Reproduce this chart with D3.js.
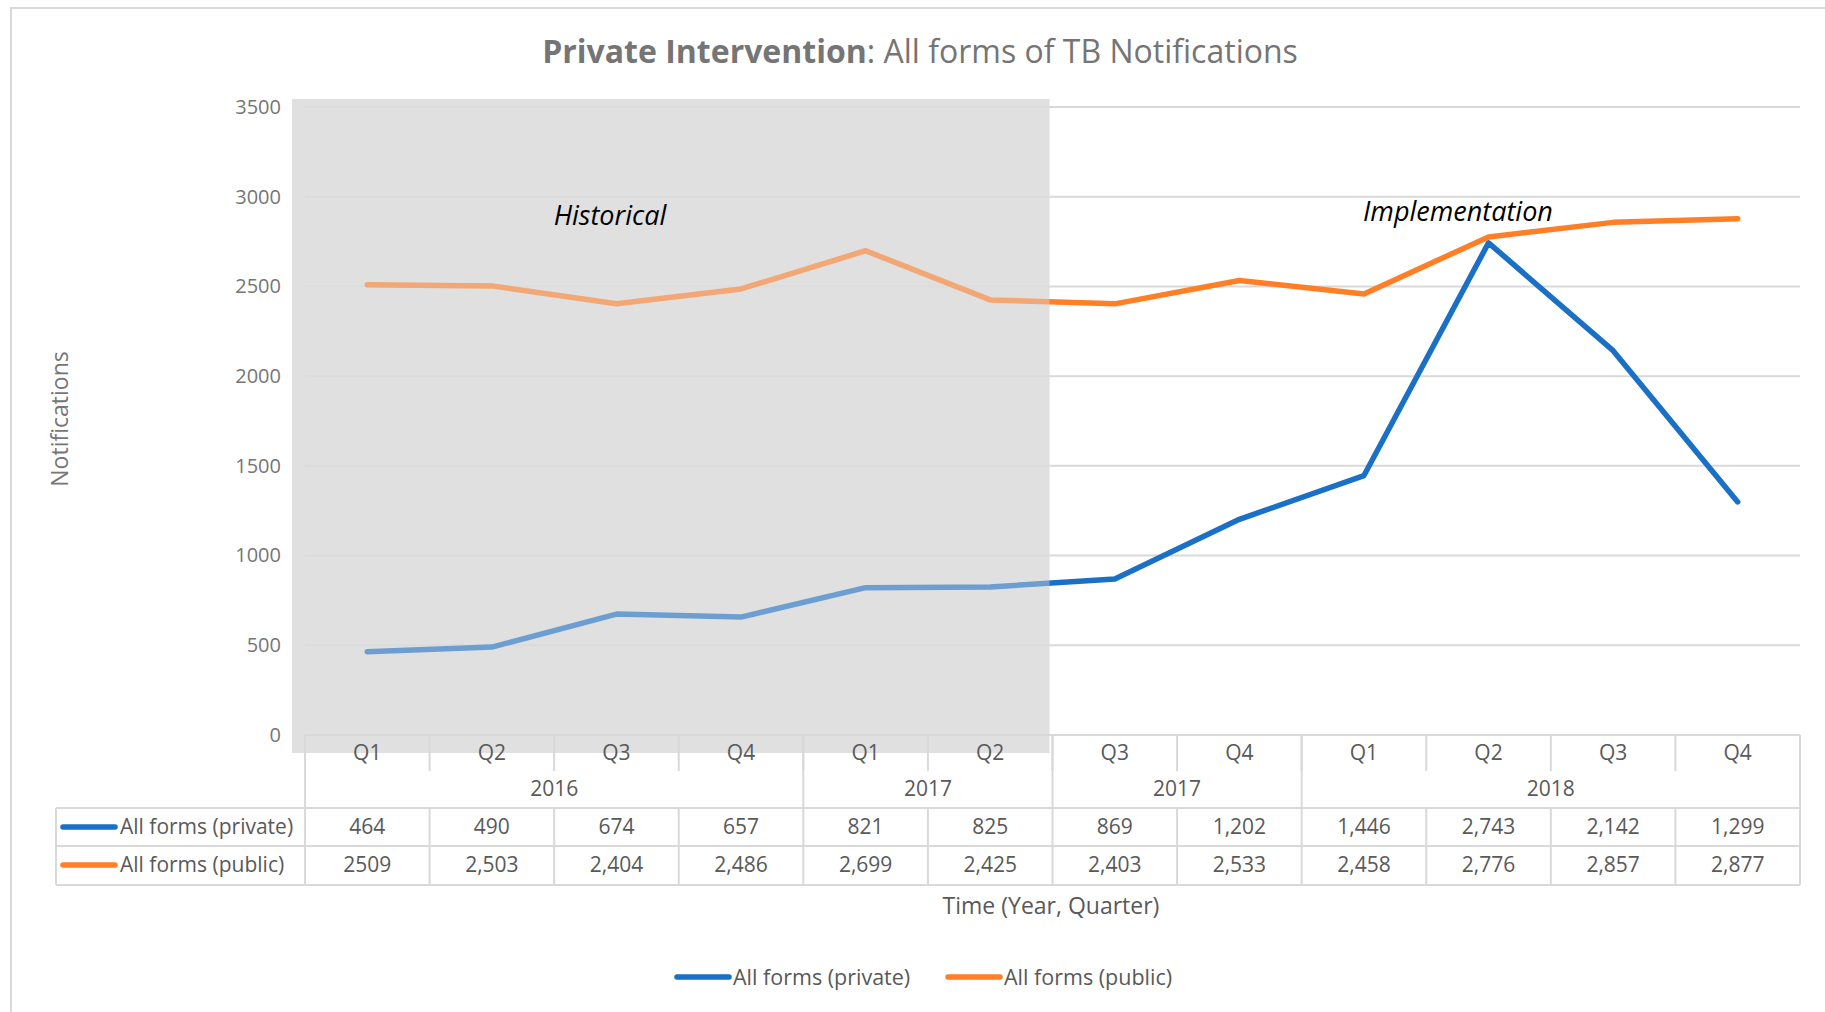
<!DOCTYPE html>
<html><head><meta charset="utf-8">
<script src="https://cdn.jsdelivr.net/npm/d3@7"></script>
<style>
html,body{margin:0;padding:0;background:#fff;}
svg{display:block;font-family:"Open Sans",sans-serif;}
</style></head>
<body><svg id="c" width="1825" height="1012"></svg>
<script>
// ---- data ----
const categories = ["2016 Q1","2016 Q2","2016 Q3","2016 Q4","2017 Q1","2017 Q2","2017 Q3","2017 Q4","2018 Q1","2018 Q2","2018 Q3","2018 Q4"];
const quarterLabels = ["Q1","Q2","Q3","Q4","Q1","Q2","Q3","Q4","Q1","Q2","Q3","Q4"];
const groupLabels = ["2016","2017","2017","2018"];
const groupSpans = [4,2,2,4];
const seriesNames = ["All forms (private)","All forms (public)"];
const privateValues = [464,490,674,657,821,825,869,1202,1446,2743,2142,1299];
const publicValues = [2509,2503,2404,2486,2699,2425,2403,2533,2458,2776,2857,2877];
const privateLabels = ["464","490","674","657","821","825","869","1,202","1,446","2,743","2,142","1,299"];
const publicLabels = ["2509","2,503","2,404","2,486","2,699","2,425","2,403","2,533","2,458","2,776","2,857","2,877"];
const yTicks = [0,500,1000,1500,2000,2500,3000,3500];
const historicalCount = 6; // first 6 quarters shaded
const annotations = ["Historical","Implementation"];

// ---- layout ----
const svg = d3.select("#c");
const colors = ["#1A6FC6","#FF7F27"];
const textGray = "#595959";
const gridColor = "#D9D9D9";
const x = d3.scaleBand().domain(categories).range([305,1800]).padding(0);
const bw = x.bandwidth();
const cx = d => x(d) + bw/2;
const y = d3.scaleLinear().domain([0,3500]).range([735,107]);
const tableFont = 21;

// outer border
svg.append("rect").attr("x",11).attr("y",8).attr("width",1830).attr("height",1020)
  .attr("fill","none").attr("stroke","#D9D9D9").attr("stroke-width",2);

// title
const title = svg.append("text").attr("x",920).attr("y",63).attr("text-anchor","middle")
  .attr("font-size",32).attr("fill","#757575");
title.append("tspan").attr("font-weight","bold").text("Private Intervention");
title.append("tspan").text(": All forms of TB Notifications");

// shaded historical area
const shadeX0 = x.range()[0] - 13;
const shadeX1 = x(categories[historicalCount]) - 3;
svg.append("rect").attr("x",shadeX0).attr("y",99).attr("width",shadeX1-shadeX0).attr("height",753-99)
  .attr("fill","#E0E0E0");

// gridlines
svg.append("g").selectAll("line").data(yTicks.filter(t=>t>0)).join("line")
  .attr("x1",x.range()[0]).attr("x2",x.range()[1])
  .attr("y1",d=>y(d)).attr("y2",d=>y(d))
  .attr("stroke",gridColor).attr("stroke-width",2);

// y axis
const yAxis = svg.append("g").attr("transform",`translate(${x.range()[0]-24},0)`)
  .call(d3.axisLeft(y).tickValues(yTicks).tickFormat(d3.format("d")).tickSize(0).tickPadding(0));
yAxis.select(".domain").remove();
yAxis.selectAll("text").attr("font-size",20).attr("fill","#767676").attr("font-family","Open Sans");

// y axis title
svg.append("text").attr("transform","translate(60,419) rotate(-90)").attr("text-anchor","middle")
  .attr("dy","0.35em").attr("font-size",23).attr("fill","#767676").text("Notifications");

// lines
const line = d3.line().x((d,i)=>cx(categories[i])).y(d=>y(d));
[privateValues, publicValues].forEach((vals,k)=>{
  svg.append("path").datum(vals).attr("d",line).attr("fill","none")
    .attr("stroke",colors[k]).attr("stroke-width",5.5)
    .attr("stroke-linejoin","round").attr("stroke-linecap","round");
});

// fade overlay over historical lines
svg.append("rect").attr("x",shadeX0).attr("y",99).attr("width",shadeX1-shadeX0).attr("height",y(0)-99)
  .attr("fill","#E0E0E0").attr("opacity",0.42);

// annotations
svg.append("text").attr("x",610).attr("y",225).attr("text-anchor","middle").attr("font-style","italic")
  .attr("font-size",27).attr("fill","#000").text(annotations[0]);
svg.append("text").attr("x",1458).attr("y",221).attr("text-anchor","middle").attr("font-style","italic")
  .attr("font-size",27).attr("fill","#000").text(annotations[1]);

// ---- data table ----
const tbl = svg.append("g").attr("stroke",gridColor).attr("stroke-width",2);
const rowTop = y(0), rowQ = 771, rowData1 = 808, rowData2 = 846, rowBottom = 885;
const tableLeft = 56;
tbl.append("line").attr("x1",x.range()[0]).attr("x2",x.range()[1]).attr("y1",rowTop).attr("y2",rowTop);
[rowData1,rowData2,rowBottom].forEach(yy=>tbl.append("line").attr("x1",tableLeft).attr("x2",x.range()[1]).attr("y1",yy).attr("y2",yy));
categories.forEach((c,i)=>{
  tbl.append("line").attr("x1",x(c)).attr("x2",x(c)).attr("y1",rowTop).attr("y2",rowQ);
});
let acc = 0;
const bounds = [0];
groupSpans.forEach(s=>{acc+=s; bounds.push(acc);});
bounds.forEach(b=>{
  const xx = b < categories.length ? x(categories[b]) : x.range()[1];
  tbl.append("line").attr("x1",xx).attr("x2",xx).attr("y1",rowTop).attr("y2",rowData1);
});
categories.forEach(c=>tbl.append("line").attr("x1",x(c)).attr("x2",x(c)).attr("y1",rowData1).attr("y2",rowBottom));
tbl.append("line").attr("x1",x.range()[1]).attr("x2",x.range()[1]).attr("y1",rowData1).attr("y2",rowBottom);
tbl.append("line").attr("x1",tableLeft).attr("x2",tableLeft).attr("y1",rowData1).attr("y2",rowBottom);

const tt = svg.append("g").attr("font-size",tableFont).attr("fill",textGray).attr("text-anchor","middle");
quarterLabels.forEach((q,i)=>tt.append("text").attr("x",cx(categories[i])).attr("y",753).attr("dy","0.35em").text(q));
acc = 0;
groupLabels.forEach((g,i)=>{
  const x0 = x(categories[acc]);
  const x1 = x(categories[acc+groupSpans[i]-1]) + bw;
  tt.append("text").attr("x",(x0+x1)/2).attr("y",789).attr("dy","0.35em").text(g);
  acc += groupSpans[i];
});
[privateLabels, publicLabels].forEach((labs,k)=>{
  const yy = k===0 ? 827 : 865;
  labs.forEach((l,i)=>tt.append("text").attr("x",cx(categories[i])).attr("y",yy).attr("dy","0.35em").text(l));
  svg.append("line").attr("x1",63).attr("x2",115).attr("y1",yy).attr("y2",yy)
    .attr("stroke",colors[k]).attr("stroke-width",5.5).attr("stroke-linecap","round");
  svg.append("text").attr("x",120).attr("y",yy).attr("dy","0.35em").attr("font-size",tableFont)
    .attr("fill",textGray).text(seriesNames[k]);
});

// x axis title
svg.append("text").attr("x",1051).attr("y",906).attr("dy","0.35em").attr("text-anchor","middle")
  .attr("font-size",23).attr("fill",textGray).text("Time (Year, Quarter)");

// legend
const legendY = 977;
const legendX = [677, 948];
seriesNames.forEach((n,k)=>{
  svg.append("line").attr("x1",legendX[k]).attr("x2",legendX[k]+52).attr("y1",legendY).attr("y2",legendY)
    .attr("stroke",colors[k]).attr("stroke-width",5.5).attr("stroke-linecap","round");
  svg.append("text").attr("x",legendX[k]+56).attr("y",legendY).attr("dy","0.35em").attr("font-size",21.5)
    .attr("fill",textGray).text(n);
});
</script></body></html>
